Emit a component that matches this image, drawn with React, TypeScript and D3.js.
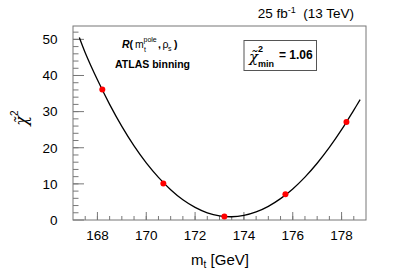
import React from "react";
import * as d3 from "d3";

// Measured points (pseudo-data)
const pointMass = [168.2, 170.7, 173.2, 175.7, 178.2];
const pointChi2 = [36.1, 10.1, 1.0, 7.1, 27.1];

// Fitted curve
const curveMass = [167.26, 167.5, 168, 168.5, 169, 169.5, 170, 170.5, 171, 171.5, 172, 172.5, 173, 173.5, 174, 174.5, 175, 175.5, 176, 176.5, 177, 177.5, 178, 178.5, 178.76];
const curveChi2 = [50.5, 46.3, 38.8, 32.0, 25.9, 20.5, 15.8, 11.8, 8.4, 5.6, 3.5, 2.0, 1.15, 0.9, 1.27, 2.23, 3.78, 5.91, 8.61, 11.88, 15.71, 20.08, 24.99, 30.43, 33.3];

const xTicks = [168, 170, 172, 174, 176, 178];
const yTicks = [0, 10, 20, 30, 40, 50];
const xDomain = [167, 179];
const yDomain = [0, 53.7];

const FONT = "'Liberation Sans', Arial, Helvetica, sans-serif";

export default function App() {
  const W = 407, H = 276;
  const L = 73, R = 366, T = 26, B = 220;
  const x = d3.scaleLinear().domain(xDomain).range([L, R]);
  const y = d3.scaleLinear().domain(yDomain).range([B, T]);

  const xMinor = d3.range(xDomain[0], xDomain[1] + 0.001, 0.5).filter((v) => v > xDomain[0] && v < xDomain[1]);
  const yMinor = d3.range(0, yDomain[1], 2).filter((v) => v > 0);

  const line = d3
    .line<number>()
    .x((_, i) => x(curveMass[i]))
    .y((d) => y(d))
    .curve(d3.curveCatmullRom);

  const axisColor = "#777";

  return (
    <svg width={W} height={H} style={{ position: "absolute", left: 0, top: 0, background: "#fff" }} fontFamily={FONT}>
      <rect x={0} y={0} width={W} height={H} fill="#fff" />
      {/* frame */}
      <rect x={L} y={T} width={R - L} height={B - T} fill="none" stroke={axisColor} strokeWidth={1} />
      {/* y ticks */}
      {yMinor.map((v) => (
        <line key={"ym" + v} x1={L} x2={L + 5.5} y1={y(v)} y2={y(v)} stroke={axisColor} strokeWidth={1} />
      ))}
      {yTicks.map((v) => (
        <g key={"y" + v}>
          <line x1={L} x2={L + 11} y1={y(v)} y2={y(v)} stroke={axisColor} strokeWidth={1} />
          <text x={57.5} y={y(v)} dy="0.36em" textAnchor="end" fontSize={13.5} fill="#000">
            {v}
          </text>
        </g>
      ))}
      {/* x ticks */}
      {xMinor.map((v) => (
        <line key={"xm" + v} x1={x(v)} x2={x(v)} y1={B} y2={B - 4} stroke={axisColor} strokeWidth={1} />
      ))}
      {xTicks.map((v) => (
        <g key={"x" + v}>
          <line x1={x(v)} x2={x(v)} y1={B} y2={B - 8} stroke={axisColor} strokeWidth={1} />
          <text x={x(v)} y={240} textAnchor="middle" fontSize={13.5} fill="#000">
            {v}
          </text>
        </g>
      ))}
      {/* curve */}
      <path d={line(curveChi2) || ""} fill="none" stroke="#000" strokeWidth={1.3} />
      {/* points */}
      {pointMass.map((m, i) => (
        <circle key={"p" + i} cx={x(m)} cy={y(pointChi2[i])} r={3} fill="#f00" />
      ))}
      {/* x title */}
      <text x={220} y={265} textAnchor="middle" fontSize={15} fill="#000">
        m<tspan fontSize={10} dy={3}>t</tspan>
        <tspan dy={-3}> [GeV]</tspan>
      </text>
      {/* y title */}
      <g transform="translate(27,118) rotate(-90)">
        <text x={0} y={0} textAnchor="middle" fontSize={16} fill="#000" fontFamily="'DejaVu Serif', serif" fontStyle="italic">
          {"\u03C7\u0303"}
          <tspan fontSize={10} dy={-9} fontFamily={FONT} fontStyle="normal">2</tspan>
        </text>
      </g>
      {/* top label */}
      <text x={354} y={18} textAnchor="end" fontSize={13.5} fill="#000">
        25 fb<tspan fontSize={9} dy={-5}>-1</tspan>
        <tspan dy={5}>{"\u00A0 (13 TeV)"}</tspan>
      </text>
      {/* model label */}
      <text x={122} y={48} fontSize={10.5} fill="#000" fontWeight="bold">
        <tspan fontStyle="italic">R</tspan>
        <tspan>(</tspan>
      </text>
      <text x={135} y={48} fontSize={10.5} fill="#000">m</text>
      <text x={143.5} y={42} fontSize={7} fill="#000">pole</text>
      <text x={144} y={52} fontSize={7} fill="#000">t</text>
      <text x={158} y={48} fontSize={10.5} fill="#000" fontWeight="bold">,</text>
      <text x={162.5} y={48} fontSize={10.5} fill="#000">{"\u03C1"}</text>
      <text x={168} y={51} fontSize={7} fill="#000">s</text>
      <text x={174} y={48} fontSize={10.5} fill="#000" fontWeight="bold">)</text>
      <text x={115} y={68} fontSize={10.5} fill="#000" fontWeight="bold">ATLAS binning</text>
      {/* chi2 min box */}
      <rect x={244} y={40.5} width={72.5} height={30} fill="#fff" stroke="#555" strokeWidth={1} />
      <text x={249} y={62} fontSize={15} fill="#000" fontFamily="'DejaVu Serif', serif" fontStyle="italic">
        {"\u03C7\u0303"}
      </text>
      <text x={258} y={52} fontSize={9} fill="#000" fontWeight="bold">2</text>
      <text x={258} y={66.5} fontSize={9} fill="#000" fontWeight="bold">min</text>
      <text x={279} y={59} fontSize={12} fill="#000" fontWeight="bold">= 1.06</text>
    </svg>
  );
}
